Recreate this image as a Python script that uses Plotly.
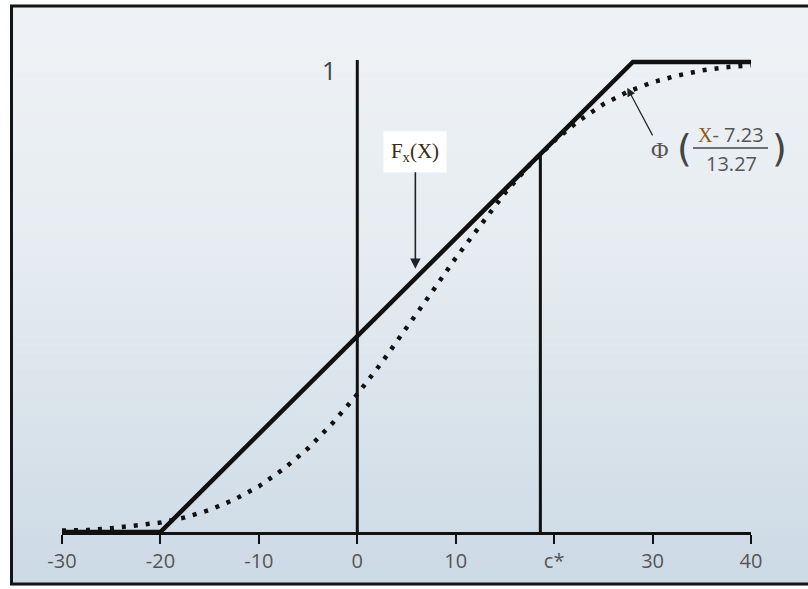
import plotly.graph_objects as go

# ---------------- data ----------------
tick_vals = [-30, -20, -10, 0, 10, 20, 30, 40]
tick_text = ["-30", "-20", "-10", "0", "10", "c*", "30", "40"]

# piecewise-linear distribution F_x(X)
fx_x = [-30, -20, 28, 40]
fx_y = [0, 0, 1, 1]

# normal cdf Phi((X-7.23)/13.27)
phi_x = [-30, -27.5, -25, -22.5, -20, -17.5, -15, -12.5, -10, -7.5, -5, -2.5, 0,
         2.5, 5, 7.5, 10, 12.5, 15, 17.5, 20, 22.5, 25, 27.5, 30, 32.5, 35, 37.5, 40]
phi_y = [0.003, 0.004, 0.008, 0.013, 0.020, 0.031, 0.047, 0.069, 0.097, 0.134, 0.178,
         0.232, 0.293, 0.361, 0.433, 0.508, 0.583, 0.654, 0.721, 0.781, 0.832, 0.875,
         0.910, 0.937, 0.957, 0.971, 0.982, 0.989, 0.993]

zero_line_x = 0
c_star = 18.6

# ---------------- geometry helpers ----------------
W, H = 808, 589
ML, MR, MT, MB = 62, 57, 20, 57
PW, PH = W - ML - MR, H - MT - MB


def px(x):
    return (x - ML) / PW


def py(y):
    return (H - MB - y) / PH


fig = go.Figure()

# F_x(X) solid
fig.add_trace(go.Scatter(x=fx_x, y=fx_y, mode="lines",
                         line=dict(color="#111111", width=4.5), hoverinfo="skip"))
# Phi dotted
fig.add_trace(go.Scatter(x=phi_x, y=phi_y, mode="lines",
                         line=dict(color="#111111", width=4.5, dash="4px,8px"),
                         hoverinfo="skip"))
# vertical line at 0 (height 1)
fig.add_trace(go.Scatter(x=[zero_line_x, zero_line_x], y=[0, 1.004], mode="lines",
                         line=dict(color="#111111", width=3), hoverinfo="skip"))
# vertical line at c* up to F_x(c*)
c_y = (c_star - fx_x[1]) / (fx_x[2] - fx_x[1])
fig.add_trace(go.Scatter(x=[c_star, c_star], y=[0, c_y], mode="lines",
                         line=dict(color="#111111", width=3), hoverinfo="skip"))

# ---------------- background gradient ----------------
stops = [(7, (239, 242, 245)), (250, (230, 236, 241)), (585, (204, 218, 229))]


def col_at(y):
    for (y0, c0), (y1, c1) in zip(stops[:-1], stops[1:]):
        if y0 <= y <= y1:
            t = (y - y0) / (y1 - y0)
            return "rgb(%d,%d,%d)" % tuple(round(a + (b - a) * t) for a, b in zip(c0, c1))
    return "rgb(%d,%d,%d)" % stops[-1][1]


shapes = []
n = 72
top, bot = 7, 585
for i in range(n):
    y0 = top + (bot - top) * i / n
    y1 = top + (bot - top) * (i + 1) / n + 0.6
    shapes.append(dict(type="rect", xref="paper", yref="paper", layer="below",
                       x0=px(11), x1=px(830), y0=py(y1), y1=py(y0),
                       line=dict(width=0), fillcolor=col_at((y0 + y1) / 2)))
# frame
shapes.append(dict(type="rect", xref="paper", yref="paper", layer="above",
                   x0=px(11.5), x1=px(830), y0=py(584), y1=py(6),
                   line=dict(color="#151515", width=3), fillcolor="rgba(0,0,0,0)"))
# fraction bar
shapes.append(dict(type="line", xref="paper", yref="paper",
                   x0=px(693), x1=px(768), y0=py(148), y1=py(148),
                   line=dict(color="#444444", width=1.5)))

sans = "Open Sans, DejaVu Sans, sans-serif"
serif = "Liberation Serif, Times New Roman, serif"

annotations = [
    dict(xref="paper", yref="paper", x=px(329), y=py(70), text="1", showarrow=False,
         font=dict(family=sans, size=25, color="#444444"),
         xanchor="center", yanchor="middle"),
    # F_x(X) label with arrow to the solid line
    dict(x=5.9, y=0.56, xref="x", yref="y",
         text="F<sub>x</sub>(X)", showarrow=True, ax=0, ay=-117,
         arrowhead=2, arrowsize=1.3, arrowwidth=1.6, arrowcolor="#222222", standoff=0,
         bgcolor="#ffffff", width=60, height=38, borderpad=1,
         font=dict(family=serif, size=21, color="#3b2a12")),
    # Phi label with arrow to the dotted curve
    dict(x=27.43, y=0.945, xref="x", yref="y", text="Φ", showarrow=True,
         ax=33, ay=62, arrowhead=2, arrowsize=1.4, arrowwidth=1.2, arrowcolor="#222222",
         standoff=0, font=dict(family=serif, size=24, color="#555555")),
    dict(xref="paper", yref="paper", x=px(684), y=py(148), text="(", showarrow=False,
         font=dict(family="DejaVu Sans, sans-serif", size=38, color="#444444"),
         xanchor="center", yanchor="middle"),
    dict(xref="paper", yref="paper", x=px(779), y=py(148), text=")", showarrow=False,
         font=dict(family="DejaVu Sans, sans-serif", size=38, color="#444444"),
         xanchor="center", yanchor="middle"),
    dict(xref="paper", yref="paper", x=px(731), y=py(134),
         text="<span style='font-family:Liberation Serif;color:#8a5a20'>X</span>- 7.23",
         showarrow=False, font=dict(family=sans, size=20, color="#555555"),
         xanchor="center", yanchor="middle"),
    dict(xref="paper", yref="paper", x=px(731), y=py(163), text="13.27", showarrow=False,
         font=dict(family=sans, size=20, color="#555555"),
         xanchor="center", yanchor="middle"),
]

fig.update_layout(
    width=W, height=H,
    margin=dict(l=ML, r=MR, t=MT, b=MB, autoexpand=False),
    paper_bgcolor="#ffffff",
    plot_bgcolor="rgba(0,0,0,0)",
    showlegend=False,
    shapes=shapes,
    annotations=annotations,
    xaxis=dict(range=[-30, 40], tickmode="array", tickvals=tick_vals, ticktext=tick_text,
               showgrid=False, zeroline=False, showline=True, linecolor="#111111",
               linewidth=3, ticks="outside", ticklen=9, tickwidth=2, tickcolor="#111111",
               tickfont=dict(family=sans, size=20, color="#555555"),
               automargin=False, fixedrange=True),
    yaxis=dict(range=[0, PH / 470], visible=False, showgrid=False, zeroline=False,
               fixedrange=True),
)

fig.write_html("out.html", config={"displayModeBar": False},
               post_script="document.body.style.margin='0';document.body.style.overflow='hidden';")
